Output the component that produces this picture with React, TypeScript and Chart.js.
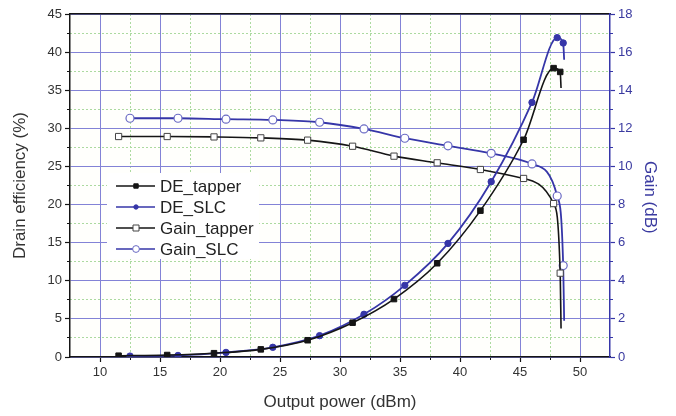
import React, { useEffect, useRef } from 'react';
import { Chart, registerables } from 'chart.js';

Chart.register(...registerables);

// ---- data ----
const powerTapper = [11.55, 15.6, 19.5, 23.4, 27.3, 31.05, 34.5, 38.1, 41.7, 45.3, 47.8, 48.35, 48.42];
const deTapper = [0.17, 0.26, 0.5, 1.0, 2.2, 4.5, 7.6, 12.3, 19.2, 28.5, 37.9, 37.4, 35.3];
const gainTapper = [11.57, 11.57, 11.55, 11.5, 11.38, 11.06, 10.54, 10.19, 9.84, 9.37, 8.05, 4.4, 1.5];

const powerSlc = [12.5, 16.5, 20.5, 24.4, 28.3, 32.0, 35.4, 39.0, 42.6, 46.0, 48.1, 48.6, 48.68];
const deSlc = [0.12, 0.2, 0.6, 1.27, 2.8, 5.6, 9.4, 14.9, 23.0, 33.4, 41.9, 41.2, 39.0];
const gainSlc = [12.53, 12.53, 12.48, 12.44, 12.32, 11.97, 11.48, 11.08, 10.69, 10.13, 8.45, 4.8, 1.9];

const seriesLabels = ['DE_tapper', 'DE_SLC', 'Gain_tapper', 'Gain_SLC'];

const xMajorTicks = [10, 15, 20, 25, 30, 35, 40, 45, 50];
const xMinorTicks = [12.5, 17.5, 22.5, 27.5, 32.5, 37.5, 42.5, 47.5];
const deMajorTicks = [0, 5, 10, 15, 20, 25, 30, 35, 40, 45];
const deMinorTicks = [2.5, 7.5, 12.5, 17.5, 22.5, 27.5, 32.5, 37.5, 42.5];
const gainTicks = [0, 2, 4, 6, 8, 10, 12, 14, 16, 18];
const gainMinorTicks = [1, 3, 5, 7, 9, 11, 13, 15, 17];

const X_MIN = 7.5;
const X_MAX = 52.5;

// ---- styles ----
const BLACK = '#151515';
const BLUE = '#3636a8';
const MAJOR_GRID = '#8383d6';
const MINOR_GRID = '#acdaa0';
const TEXT = '#333333';
const FONT = '"Liberation Sans", Arial, sans-serif';

const toPoints = (xs: number[], ys: number[]) => xs.map((x, i) => ({ x, y: ys[i] }));
const lastHidden = (r: number) => (ctx: any) =>
  ctx.dataIndex === ctx.dataset.data.length - 1 ? 0 : r;

const bgPlugin = {
  id: 'plotBg',
  beforeDraw(chart: any) {
    const { ctx, chartArea } = chart;
    ctx.save();
    ctx.fillStyle = '#fffffc';
    ctx.fillRect(chartArea.left, chartArea.top, chartArea.right - chartArea.left, chartArea.bottom - chartArea.top);
    ctx.restore();
  },
};

const legendPlugin = {
  id: 'insetLegend',
  afterDraw(chart: any) {
    const { ctx, chartArea } = chart;
    const x0 = chartArea.left + 37;
    const y0 = chartArea.top + 159;
    ctx.save();
    ctx.fillStyle = '#ffffff';
    ctx.fillRect(x0, y0, 152, 86);
    chart.data.datasets.forEach((ds: any, i: number) => {
      const y = y0 + 13 + i * 21;
      const lx = x0 + 9;
      ctx.strokeStyle = ds.borderColor;
      ctx.lineWidth = 1.5;
      ctx.beginPath();
      ctx.moveTo(lx, y);
      ctx.lineTo(lx + 39, y);
      ctx.stroke();
      const mx = lx + 20;
      ctx.fillStyle = ds.pointBackgroundColor;
      ctx.strokeStyle = ds.pointBorderColor;
      ctx.lineWidth = 1;
      ctx.beginPath();
      if (ds.pointStyle === 'rect') {
        const s = ds.legendMarker;
        ctx.rect(mx - s, y - s, 2 * s, 2 * s);
      } else {
        ctx.arc(mx, y, ds.legendMarker, 0, Math.PI * 2);
      }
      ctx.fill();
      ctx.stroke();
      ctx.fillStyle = '#222222';
      ctx.font = `17px ${FONT}`;
      ctx.textBaseline = 'middle';
      ctx.textAlign = 'left';
      ctx.fillText(ds.label, lx + 44, y + 1);
    });
    ctx.restore();
  },
};

const minorAxis = (position: string, min: number, max: number, ticks: number[], tickColor: string, horizontal: boolean) => ({
  type: 'linear',
  position,
  min,
  max,
  weight: -1,
  afterBuildTicks: (s: any) => {
    s.ticks = ticks.map((v) => ({ value: v }));
  },
  afterFit: (s: any) => {
    if (horizontal) s.height = 0;
    else s.width = 0;
  },
  grid: {
    color: MINOR_GRID,
    lineWidth: 1,
    drawTicks: true,
    tickLength: 3,
    tickColor,
    tickWidth: 1,
    z: -1,
  },
  border: { display: false, dash: [2, 2] },
  ticks: { display: false, padding: 0 },
});

export default function App() {
  const canvasRef = useRef<HTMLCanvasElement | null>(null);

  useEffect(() => {
    if (!canvasRef.current) return;
    const y1MinorAxis: any = minorAxis('right', 0, 18, gainMinorTicks, BLUE, false);
    y1MinorAxis.grid.drawOnChartArea = false;
    const chart = new Chart(canvasRef.current, {
      type: 'line',
      data: {
        datasets: [
          {
            label: seriesLabels[0],
            data: toPoints(powerTapper, deTapper),
            yAxisID: 'y',
            borderColor: BLACK,
            backgroundColor: BLACK,
            pointBackgroundColor: BLACK,
            pointBorderColor: BLACK,
            pointStyle: 'rect',
            pointRadius: lastHidden(3.9),
            pointBorderWidth: 1,
            borderWidth: 1.6,
            cubicInterpolationMode: 'monotone',
            legendMarker: 2.2,
          } as any,
          {
            label: seriesLabels[1],
            data: toPoints(powerSlc, deSlc),
            yAxisID: 'y',
            borderColor: BLUE,
            backgroundColor: BLUE,
            pointBackgroundColor: BLUE,
            pointBorderColor: BLUE,
            pointStyle: 'circle',
            pointRadius: lastHidden(3.2),
            pointBorderWidth: 1,
            borderWidth: 1.8,
            cubicInterpolationMode: 'monotone',
            legendMarker: 2.2,
          } as any,
          {
            label: seriesLabels[2],
            data: toPoints(powerTapper, gainTapper),
            yAxisID: 'y1',
            borderColor: BLACK,
            backgroundColor: '#ffffff',
            pointBackgroundColor: '#ffffff',
            pointBorderColor: '#444444',
            pointStyle: 'rect',
            pointRadius: lastHidden(4.4),
            pointBorderWidth: 1,
            borderWidth: 1.6,
            cubicInterpolationMode: 'monotone',
            legendMarker: 3,
          } as any,
          {
            label: seriesLabels[3],
            data: toPoints(powerSlc, gainSlc),
            yAxisID: 'y1',
            borderColor: BLUE,
            backgroundColor: '#ffffff',
            pointBackgroundColor: '#ffffff',
            pointBorderColor: '#6a6ac4',
            pointStyle: 'circle',
            pointRadius: lastHidden(4),
            pointBorderWidth: 1.2,
            borderWidth: 1.8,
            cubicInterpolationMode: 'monotone',
            legendMarker: 3.4,
          } as any,
        ],
      },
      options: {
        responsive: false,
        animation: false,
        devicePixelRatio: 1,
        layout: { padding: { top: 14, left: 0, right: 0, bottom: 0 } },
        plugins: {
          legend: { display: false },
          tooltip: { enabled: false },
        },
        elements: { line: { borderJoinStyle: 'round' } },
        scales: {
          x: {
            type: 'linear',
            position: 'bottom',
            min: X_MIN,
            max: X_MAX,
            afterBuildTicks: (s: any) => {
              s.ticks = xMajorTicks.map((v) => ({ value: v }));
            },
            afterFit: (s: any) => {
              s.height = 59;
            },
            grid: { color: MAJOR_GRID, lineWidth: 1, tickLength: 5, tickColor: BLACK, tickWidth: 1.2 },
            border: { color: BLACK, width: 1.5 },
            ticks: { color: TEXT, font: { size: 13, family: FONT }, padding: 3, maxRotation: 0 },
            title: {
              display: true,
              text: 'Output power (dBm)',
              color: TEXT,
              font: { size: 17, family: FONT },
              padding: { top: 0, bottom: 3 },
            },
          },
          xMinor: minorAxis('bottom', X_MIN, X_MAX, xMinorTicks, BLACK, true) as any,
          xTop: {
            type: 'linear',
            position: 'top',
            min: X_MIN,
            max: X_MAX,
            afterFit: (s: any) => {
              s.height = 0;
            },
            grid: { drawOnChartArea: false, drawTicks: false },
            border: { color: BLACK, width: 1.5 },
            ticks: { display: false },
          },
          y: {
            type: 'linear',
            position: 'left',
            min: 0,
            max: 45,
            afterBuildTicks: (s: any) => {
              s.ticks = deMajorTicks.map((v) => ({ value: v }));
            },
            afterFit: (s: any) => {
              s.width = 70;
            },
            grid: { color: MAJOR_GRID, lineWidth: 1, tickLength: 5, tickColor: BLACK, tickWidth: 1.2 },
            border: { color: BLACK, width: 1.5 },
            ticks: { color: TEXT, font: { size: 13, family: FONT }, padding: 3 },
            title: {
              display: true,
              text: 'Drain efficiency (%)',
              color: TEXT,
              font: { size: 17, family: FONT },
              padding: { top: 10, bottom: 0 },
            },
          },
          yMinor: minorAxis('left', 0, 45, deMinorTicks, BLACK, false) as any,
          y1: {
            type: 'linear',
            position: 'right',
            min: 0,
            max: 18,
            afterBuildTicks: (s: any) => {
              s.ticks = gainTicks.map((v) => ({ value: v }));
            },
            afterFit: (s: any) => {
              s.width = 66;
            },
            grid: { drawOnChartArea: false, tickLength: 5, tickColor: BLUE, tickWidth: 1.2 },
            border: { color: BLUE, width: 1.5 },
            ticks: { color: '#3a3aa0', font: { size: 13, family: FONT }, padding: 3 },
            title: {
              display: true,
              text: '     Gain (dB)',
              color: '#3a3aa0',
              font: { size: 17, family: FONT },
              padding: { top: 16, bottom: 0 },
            },
          },
          y1Minor: y1MinorAxis,
        },
      } as any,
      plugins: [bgPlugin, legendPlugin],
    });
    return () => chart.destroy();
  }, []);

  return (
    <div style={{ position: 'fixed', left: 0, top: 0, width: 676, height: 416, background: '#ffffff' }}>
      <canvas ref={canvasRef} width={676} height={416} style={{ display: 'block' }} />
    </div>
  );
}
